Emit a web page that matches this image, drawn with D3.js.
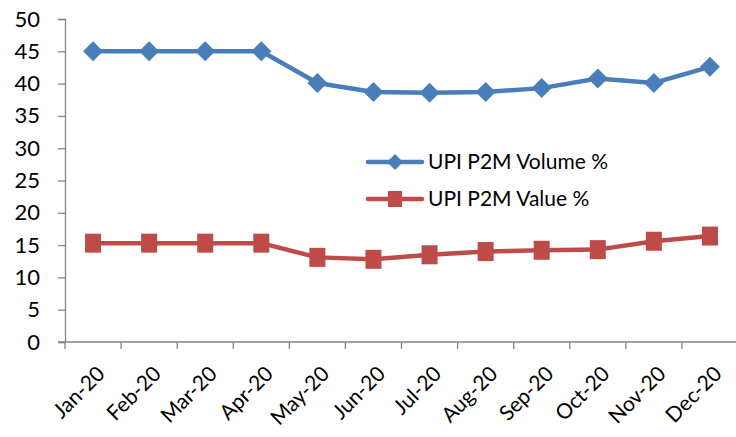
<!DOCTYPE html>
<html lang="en">
<head>
<meta charset="utf-8">
<script src="https://cdnjs.cloudflare.com/ajax/libs/d3/7.8.5/d3.min.js"></script>
<style>
    body { margin: 0; background: #fff; }
    text { font-family: Lato, "Open Sans", sans-serif; fill: #000; }
</style>
</head>
<body>
<script type="text/javascript">

    var months = ["Jan-20", "Feb-20", "Mar-20", "Apr-20", "May-20", "Jun-20",
                  "Jul-20", "Aug-20", "Sep-20", "Oct-20", "Nov-20", "Dec-20"];
    var volumePct = [45, 45, 45, 45, 40.1, 38.7, 38.6, 38.7, 39.3, 40.8, 40.1, 42.6];
    var valuePct = [15.3, 15.3, 15.3, 15.3, 13.1, 12.8, 13.5, 14, 14.2, 14.3, 15.6, 16.4];
    var yTicks = [0, 5, 10, 15, 20, 25, 30, 35, 40, 45, 50];
    var seriesNames = ["UPI P2M Volume %", "UPI P2M Value %"];

    var W = 736, H = 437;
    var margin = {top: 19, right: -2, bottom: 95, left: 65};
    var width = W - margin.left - margin.right,
        height = H - margin.top - margin.bottom;

    var svg = d3.select("body").append("svg")
        .attr("width", W)
        .attr("height", H);

    var g = svg.append("g")
        .attr("transform", "translate(" + margin.left + "," + margin.top + ")");

    var x = d3.scaleBand()
        .domain(months)
        .range([0, width]);

    var y = d3.scaleLinear()
        .domain([0, 50])
        .range([height, 0]);

    var axisColor = "#868686";

    // Y axis
    var yAxis = g.append("g")
        .call(d3.axisLeft(y).tickValues(yTicks).tickSize(7).tickPadding(18));
    yAxis.select(".domain").attr("stroke", axisColor).attr("stroke-width", 1.3);
    yAxis.selectAll(".tick line").attr("stroke", axisColor).attr("stroke-width", 1.3);
    yAxis.selectAll("text").style("font-size", "22px");

    // X axis with ticks on band boundaries
    var xAxis = g.append("g")
        .attr("transform", "translate(0," + height + ")");
    xAxis.append("line")
        .attr("x1", -7).attr("x2", width)
        .attr("stroke", axisColor).attr("stroke-width", 1.3);
    xAxis.selectAll(".bound")
        .data(months)
        .enter().append("line")
        .attr("x1", function(d) { return x(d); })
        .attr("x2", function(d) { return x(d); })
        .attr("y1", 0).attr("y2", 7)
        .attr("stroke", axisColor).attr("stroke-width", 1.3);
    xAxis.selectAll(".lbl")
        .data(months)
        .enter().append("text")
        .attr("transform", function(d) {
            return "translate(" + (x(d) + x.bandwidth() / 2 + 2) + ",22) rotate(-45)";
        })
        .attr("text-anchor", "end")
        .attr("dy", "0.75em")
        .style("font-size", "21px")
        .text(function(d) { return d; });

    var line = d3.line()
        .x(function(d, i) { return x(months[i]) + x.bandwidth() / 2; })
        .y(function(d) { return y(d); });

    var blue = "#4A7EBB", red = "#BE4B48";

    // Volume series
    g.append("path")
        .datum(volumePct)
        .attr("fill", "none")
        .attr("stroke", blue)
        .attr("stroke-width", 4.5)
        .attr("stroke-linejoin", "round")
        .attr("d", line);
    g.selectAll(".diamond")
        .data(volumePct)
        .enter().append("path")
        .attr("d", "M0,-10L10,0L0,10L-10,0Z")
        .attr("fill", blue)
        .attr("transform", function(d, i) {
            return "translate(" + (x(months[i]) + x.bandwidth() / 2) + "," + y(d) + ")";
        });

    // Value series
    g.append("path")
        .datum(valuePct)
        .attr("fill", "none")
        .attr("stroke", red)
        .attr("stroke-width", 4.5)
        .attr("stroke-linejoin", "round")
        .attr("d", line);
    g.selectAll(".square")
        .data(valuePct)
        .enter().append("rect")
        .attr("x", function(d, i) { return x(months[i]) + x.bandwidth() / 2 - 8; })
        .attr("y", function(d) { return y(d) - 9.5; })
        .attr("width", 16)
        .attr("height", 19)
        .attr("fill", red);

    // Legend
    var legend = svg.append("g").attr("transform", "translate(368,162)");
    seriesNames.forEach(function(name, i) {
        var row = legend.append("g").attr("transform", "translate(0," + (i * 37) + ")");
        row.append("line")
            .attr("x1", 0).attr("x2", 54)
            .attr("stroke", i === 0 ? blue : red)
            .attr("stroke-width", 4.5)
            .attr("stroke-linecap", "round");
        if (i === 0) {
            row.append("path").attr("d", "M27,-8L35,0L27,8L19,0Z").attr("fill", blue);
        } else {
            row.append("rect").attr("x", 20).attr("y", -8).attr("width", 14).attr("height", 16).attr("fill", red);
        }
        row.append("text")
            .attr("x", 60)
            .attr("dy", "0.35em")
            .style("font-size", "21px")
            .text(name);
    });

</script>
</body>
</html>
